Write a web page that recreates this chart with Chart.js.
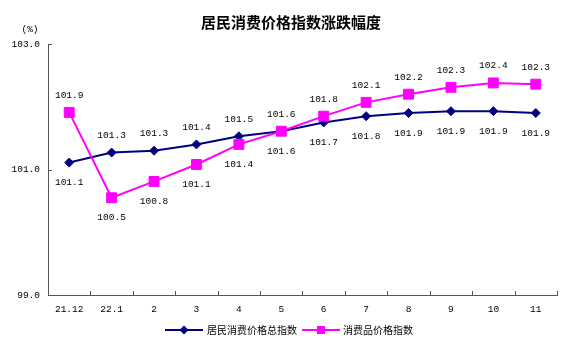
<!DOCTYPE html>
<html><head><meta charset="utf-8">
<script src="https://cdn.jsdelivr.net/npm/chart.js@4"></script>
<style>html,body{margin:0;padding:0;background:#fff}canvas{display:block}</style>
</head><body>
<canvas id="c" width="581" height="349"></canvas>
<script>
const categories = ['21.12','22.1','2','3','4','5','6','7','8','9','10','11'];
const cpiValues = [101.11,101.27,101.3,101.4,101.53,101.61,101.75,101.85,101.9,101.93,101.93,101.9];
const cpiLabels = ['101.1','101.3','101.3','101.4','101.5','101.6','101.7','101.8','101.9','101.9','101.9','101.9'];
const consumerValues = [101.91,100.55,100.81,101.08,101.4,101.61,101.85,102.07,102.2,102.31,102.38,102.36];
const consumerLabels = ['101.9','100.5','100.8','101.1','101.4','101.6','101.8','102.1','102.2','102.3','102.4','102.3'];
const yTicks = [99, 101, 103];
const cpiLabelPos = ['below','above','above','above','above','above','below','below','below','below','below','below'];
const consumerLabelPos = ['above','below','below','below','below','below','above','above','above','above','above','above'];

const NUM_FONT = '"Liberation Mono", monospace';
const CJK_FONT = '"Noto Sans CJK SC", sans-serif';

const decor = {
  id: 'decor',
  afterDatasetsDraw(chart) {
    const ctx = chart.ctx;
    ctx.save();
    ctx.font = '9.5px ' + NUM_FONT;
    ctx.fillStyle = '#000';
    ctx.textAlign = 'center';
    ctx.textBaseline = 'middle';
    const sets = [[0, cpiLabels, cpiLabelPos], [1, consumerLabels, consumerLabelPos]];
    sets.forEach(([di, labels, pos]) => {
      const meta = chart.getDatasetMeta(di);
      meta.data.forEach((el, i) => {
        const dy = pos[i] === 'above' ? -17 : 20;
        ctx.fillText(labels[i], el.x, el.y + dy);
      });
    });
    ctx.restore();
  },
  afterDraw(chart) {
    const {ctx, chartArea: a, scales: {x, y}} = chart;
    ctx.save();
    ctx.strokeStyle = '#555';
    ctx.lineWidth = 1;
    ctx.beginPath();
    yTicks.forEach(v => {
      if (v === y.min) return;
      const py = Math.round(y.getPixelForValue(v)) + 0.5;
      ctx.moveTo(a.left, py); ctx.lineTo(a.left + 4, py);
    });
    const step = x.getPixelForValue(1) - x.getPixelForValue(0);
    for (let i = 0; i < categories.length; i++) {
      const px = Math.round(x.getPixelForValue(i) + step / 2) + 0.5;
      ctx.moveTo(px, a.bottom); ctx.lineTo(px, a.bottom - 4);
    }
    ctx.stroke();

    // title
    ctx.fillStyle = '#000';
    ctx.textAlign = 'center';
    ctx.textBaseline = 'middle';
    ctx.font = 'bold 15px ' + CJK_FONT;
    ctx.fillText('居民消费价格指数涨跌幅度', 291, 22);

    // unit
    ctx.font = '9.5px ' + NUM_FONT;
    ctx.fillText('(%)', 30, 29);

    // legend
    const ly = 330;
    ctx.lineWidth = 2;
    ctx.strokeStyle = '#000080';
    ctx.beginPath(); ctx.moveTo(165, ly); ctx.lineTo(203, ly); ctx.stroke();
    ctx.fillStyle = '#000080';
    ctx.beginPath();
    ctx.moveTo(184, ly - 4.5); ctx.lineTo(188.5, ly); ctx.lineTo(184, ly + 4.5); ctx.lineTo(179.5, ly);
    ctx.closePath(); ctx.fill();
    ctx.strokeStyle = '#FF00FF';
    ctx.beginPath(); ctx.moveTo(302, ly); ctx.lineTo(340, ly); ctx.stroke();
    ctx.fillStyle = '#FF00FF';
    ctx.fillRect(317, ly - 4, 8, 8);
    ctx.fillStyle = '#000';
    ctx.textAlign = 'left';
    ctx.font = '10px ' + CJK_FONT;
    ctx.fillText('居民消费价格总指数', 207, ly);
    ctx.fillText('消费品价格指数', 343, ly);
    ctx.restore();
  }
};

new Chart(document.getElementById('c'), {
  type: 'line',
  data: {
    labels: categories,
    datasets: [
      {label: '居民消费价格总指数', data: cpiValues, borderColor: '#000080', backgroundColor: '#000080',
       borderWidth: 2, pointStyle: 'rectRot', pointRadius: 4.5, pointBorderWidth: 1, tension: 0, order: 1},
      {label: '消费品价格指数', data: consumerValues, borderColor: '#FF00FF', backgroundColor: '#FF00FF',
       borderWidth: 2, pointStyle: 'rect', pointRadius: 7, pointBorderWidth: 1, tension: 0, order: 0}
    ]
  },
  options: {
    responsive: false, animation: false, devicePixelRatio: 1,
    layout: {padding: {top: 44, right: 24, left: 0, bottom: 0}},
    plugins: {legend: {display: false}, title: {display: false}, tooltip: {enabled: false}},
    scales: {
      x: {
        offset: true,
        grid: {display: true, drawOnChartArea: false, drawTicks: false, offset: true},
        border: {color: '#555', width: 1},
        ticks: {font: {family: NUM_FONT, size: 9.5}, color: '#000', padding: 9, maxRotation: 0, autoSkip: false},
        afterFit(s) { s.height = 54; }
      },
      y: {
        min: 99, max: 103,
        afterBuildTicks(s) { s.ticks = yTicks.map(v => ({value: v})); },
        grid: {display: true, drawOnChartArea: false, drawTicks: false},
        border: {color: '#555', width: 1},
        ticks: {font: {family: NUM_FONT, size: 9.5}, color: '#000', padding: 8, callback: v => Number(v).toFixed(1)},
        afterFit(s) { s.width = 48; }
      }
    }
  },
  plugins: [decor]
});
</script>
</body></html>
